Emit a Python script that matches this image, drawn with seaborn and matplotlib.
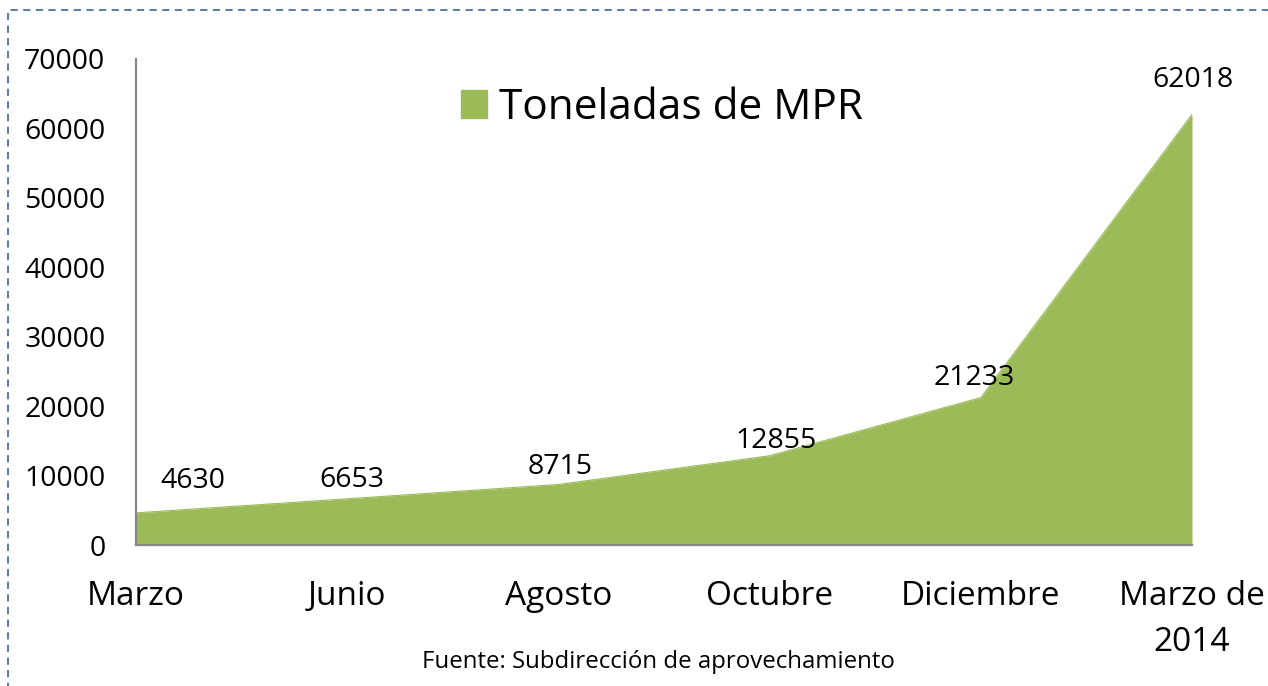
import matplotlib
matplotlib.use("Agg")
import matplotlib.pyplot as plt
import seaborn as sns
import pandas as pd
import numpy as np
from matplotlib.patches import Patch, Rectangle

categories = ["Marzo", "Junio", "Agosto", "Octubre", "Diciembre", "Marzo de\n2014"]
toneladas = [4630, 6653, 8715, 12855, 21233, 62018]
y_ticks = [0, 10000, 20000, 30000, 40000, 50000, 60000, 70000]
series_name = "Toneladas de MPR"
source_note = "Fuente: Subdirección de aprovechamiento"

sns.set_theme(style="white")
plt.rcParams["font.family"] = ["Open Sans", "DejaVu Sans"]
plt.rcParams["text.color"] = "black"

GREEN = "#9BBB59"
AXIS = "#868686"

df = pd.DataFrame({"pos": np.arange(len(categories)), "val": toneladas})

fig = plt.figure(figsize=(12.68, 6.86), dpi=100)
ax = fig.add_axes([136/1268, 1-545/686, (1192-136)/1268, (545-59)/686])

sns.lineplot(data=df, x="pos", y="val", ax=ax, color=GREEN, linewidth=0.8)
ax.fill_between(df["pos"], 0, df["val"], color=GREEN, linewidth=0)

ax.set_xlim(0, len(categories) - 1)
ax.set_ylim(0, 70000)
ax.set_yticks(y_ticks)
ax.set_yticklabels([str(v) for v in y_ticks], fontsize=20.5)
ax.set_xticks(df["pos"])
ax.set_xticklabels(categories, fontsize=24, linespacing=1.55)
ax.tick_params(axis="y", length=0, pad=22, labelcolor="black")
ax.tick_params(axis="x", length=0, pad=25, labelcolor="black")
ax.set_xlabel("")
ax.set_ylabel("")
for s in ["top", "right"]:
    ax.spines[s].set_visible(False)
for s in ["left", "bottom"]:
    ax.spines[s].set_color(AXIS)
    ax.spines[s].set_linewidth(1.6)
ax.spines["bottom"].set_zorder(5)
ax.patch.set_alpha(0)

# data labels (pixel offsets from each point)
label_offsets = [(57, 32), (5, 19), (2, 17), (6, 15), (-7, 20), (1, 34)]
for (x, v), (dx, dy) in zip(zip(df["pos"], df["val"]), label_offsets):
    ax.annotate(str(v), xy=(x, v), xytext=(dx, dy), textcoords="offset pixels",
                ha="center", va="center", fontsize=20.5, color="black",
                annotation_clip=False)

handle = Patch(facecolor=GREEN, edgecolor=GREEN)
leg = fig.legend([handle], [series_name], loc="center",
                 bbox_to_anchor=(662/1268, 1-108/686), frameon=False,
                 fontsize=30.5, handlelength=0.62, handleheight=0.62,
                 handletextpad=0.3, borderpad=0, labelcolor="black")

fig.text(658/1268, 1-662/686, source_note, ha="center", va="center",
         fontsize=17.3, color="black")

border = Rectangle((8/1268, -0.1), 1.2, 1-10/686 + 0.1, transform=fig.transFigure,
                   fill=False, edgecolor="#4F6F9F", linewidth=1.3,
                   linestyle=(0, (4, 3)), clip_on=False)
fig.patches.append(border)

fig.savefig("out.png", dpi=100)
